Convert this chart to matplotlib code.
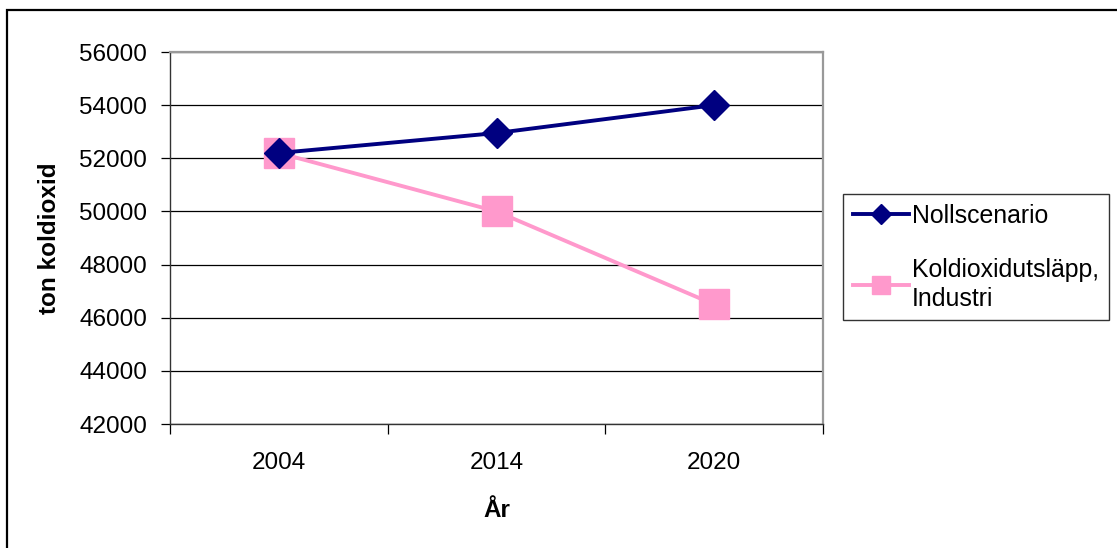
import matplotlib
matplotlib.use("Agg")
import matplotlib.pyplot as plt
from matplotlib.patches import Rectangle

years = ["2004", "2014", "2020"]
noll = [52200, 52950, 54000]
industri = [52200, 50000, 46500]
series_labels = ["Nollscenario", "Koldioxidutsläpp,\nIndustri"]
y_ticks = [42000, 44000, 46000, 48000, 50000, 52000, 54000, 56000]

plt.rcParams['font.family'] = ['Liberation Sans', 'DejaVu Sans']
FS = 17.5
LFS = 17.9

W, H = 1117, 548
fig = plt.figure(figsize=(W / 100, H / 100), dpi=100)
fig.patch.set_facecolor('white')

ax = fig.add_axes([170 / W, 1 - 424 / H, (823 - 170) / W, (424 - 52) / H])

x = list(range(len(years)))
l1, = ax.plot(x, noll, color='#000080', lw=2.8, marker='D', ms=15,
              markerfacecolor='#000080', markeredgecolor='#000080',
              label=series_labels[0], zorder=4)
l2, = ax.plot(x, industri, color='#FF99CC', lw=2.8, marker='s', ms=21,
              markerfacecolor='#FF99CC', markeredgecolor='#FF99CC',
              label=series_labels[1], zorder=3)

ax.set_xlim(-0.5, len(years) - 0.5)
ax.set_ylim(y_ticks[0], y_ticks[-1])
ax.set_yticks(y_ticks)
ax.set_yticklabels([str(v) for v in y_ticks], fontsize=FS)
ax.yaxis.grid(True, color='black', lw=0.9)
ax.set_axisbelow(True)

ax.set_xticks([i - 0.5 for i in range(len(years) + 1)])
ax.set_xticklabels([])
ax.set_xticks(x, minor=True)
ax.set_xticklabels(years, minor=True, fontsize=FS)
ax.tick_params(axis='x', which='major', direction='out', length=7, width=0.9, color='black')
ax.tick_params(axis='x', which='minor', length=0, pad=20)
ax.tick_params(axis='y', direction='out', length=6.5, width=0.9, pad=10, color='black')

for s in ['top', 'right']:
    ax.spines[s].set_color('#999999')
    ax.spines[s].set_linewidth(1.6)
for s in ['left', 'bottom']:
    ax.spines[s].set_color('#333333')
    ax.spines[s].set_linewidth(1.0)

ax.set_xlabel('År', fontsize=FS, fontweight='bold', labelpad=18)
ax.set_ylabel('ton koldioxid', fontsize=FS, fontweight='bold', labelpad=13)

leg = fig.legend(handles=[l1, l2], loc='upper left',
                 bbox_to_anchor=(843 / W, 1 - 194 / H), borderaxespad=0,
                 fontsize=LFS, frameon=True, fancybox=False, handlelength=2.25,
                 handletextpad=0.12, labelspacing=1.2, borderpad=0.4,
                 markerscale=0.65)
leg.get_frame().set_edgecolor('black')
leg.get_frame().set_linewidth(1.0)
for t in leg.get_texts():
    t.set_linespacing(1.25)

fig.patches.append(Rectangle((7 / W, -0.5), 2, 0.5 + 1 - 10 / H,
                             transform=fig.transFigure, fill=False,
                             edgecolor='black', lw=1.6))

fig.savefig('out.png', dpi=100, facecolor='white')
